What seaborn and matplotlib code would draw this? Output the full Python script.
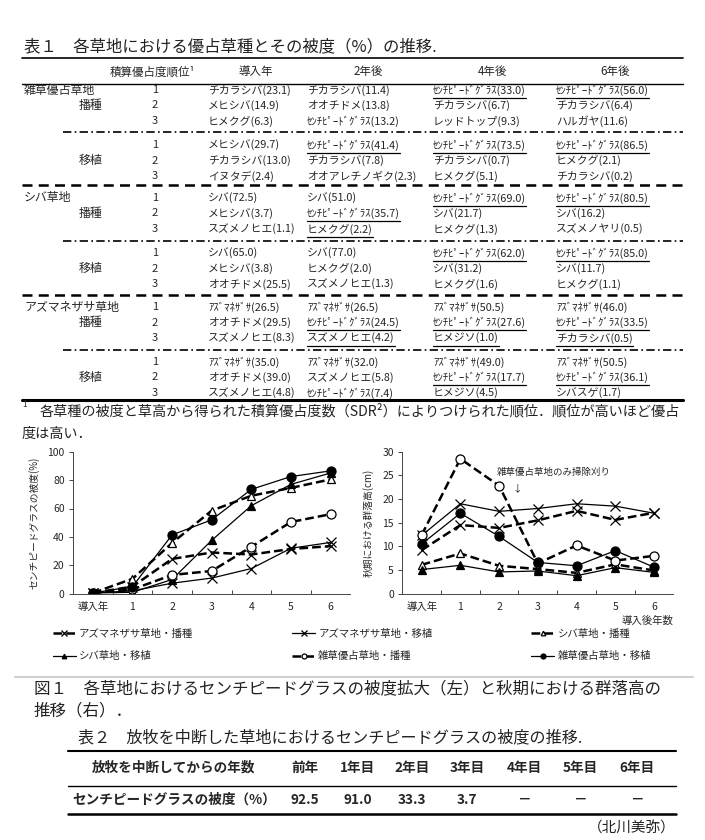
import numpy as np
import pandas as pd
import seaborn as sns
import matplotlib.pyplot as plt
from matplotlib.lines import Line2D

sns.set_style('ticks')
plt.rcParams['font.family'] = ['Noto Sans CJK JP', 'DejaVu Sans']

W, H = 705, 840

# ---- table 1 data ----
CPG = 'ｾﾝﾁﾋﾟｰﾄﾞｸﾞﾗｽ'
AZ = 'ｱｽﾞﾏﾈｻﾞｻ'
groups = ['雑草優占草地', 'シバ草地', 'アズマネザサ草地']
methods = ['播種', '移植']
t1_header = ['導入年', '2年後', '4年後', '6年後']
col_intro = ['チカラシバ(23.1)', 'メヒシバ(14.9)', 'ヒメクグ(6.3)',
             'メヒシバ(29.7)', 'チカラシバ(13.0)', 'イヌタデ(2.4)',
             'シバ(72.5)', 'メヒシバ(3.7)', 'スズメノヒエ(1.1)',
             'シバ(65.0)', 'メヒシバ(3.8)', 'オオチドメ(25.5)',
             AZ + '(26.5)', 'オオチドメ(29.5)', 'スズメノヒエ(8.3)',
             AZ + '(35.0)', 'オオチドメ(39.0)', 'スズメノヒエ(4.8)']
col_2y = ['チカラシバ(11.4)', 'オオチドメ(13.8)', CPG + '(13.2)',
          CPG + '(41.4)', 'チカラシバ(7.8)', 'オオアレチノギク(2.3)',
          'シバ(51.0)', CPG + '(35.7)', 'ヒメクグ(2.2)',
          'シバ(77.0)', 'ヒメクグ(2.0)', 'スズメノヒエ(1.3)',
          AZ + '(26.5)', CPG + '(24.5)', 'スズメノヒエ(4.2)',
          AZ + '(32.0)', 'スズメノヒエ(5.8)', CPG + '(7.4)']
col_4y = [CPG + '(33.0)', 'チカラシバ(6.7)', 'レッドトップ(9.3)',
          CPG + '(73.5)', 'チカラシバ(0.7)', 'ヒメクグ(5.1)',
          CPG + '(69.0)', 'シバ(21.7)', 'ヒメクグ(1.3)',
          CPG + '(62.0)', 'シバ(31.2)', 'ヒメクグ(1.6)',
          AZ + '(50.5)', CPG + '(27.6)', 'ヒメジソ(1.0)',
          AZ + '(49.0)', CPG + '(17.7)', 'ヒメジソ(4.5)']
col_6y = [CPG + '(56.0)', 'チカラシバ(6.4)', 'ハルガヤ(11.6)',
          CPG + '(86.5)', 'ヒメクグ(2.1)', 'チカラシバ(0.2)',
          CPG + '(80.5)', 'シバ(16.2)', 'スズメノヤリ(0.5)',
          CPG + '(85.0)', 'シバ(11.7)', 'ヒメクグ(1.1)',
          AZ + '(46.0)', CPG + '(33.5)', 'チカラシバ(0.5)',
          AZ + '(50.5)', CPG + '(36.1)', 'シバスゲ(1.7)']
under_2y = [3, 7, 8, 13, 14]
under_4y = [0, 3, 6, 9, 13, 14, 16]
under_6y = [0, 3, 6, 9, 13, 14, 16]

# ---- figure 1 data ----
years = ['導入年', '1', '2', '3', '4', '5', '6']
series_names = ['アズマネザサ草地・播種', 'アズマネザサ草地・移植', 'シバ草地・播種',
                'シバ草地・移植', '雑草優占草地・播種', '雑草優占草地・移植']
az_sow_cover = [0.5, 5.0, 24.5, 29.0, 27.6, 31.5, 33.5]
az_tp_cover = [0.5, 2.0, 7.4, 11.0, 17.7, 32.0, 36.1]
shiba_sow_cover = [0.5, 10.5, 35.7, 58.5, 69.0, 74.5, 80.5]
shiba_tp_cover = [0.5, 1.0, 10.0, 37.6, 62.0, 77.0, 85.0]
weed_sow_cover = [0.5, 3.0, 13.2, 16.0, 33.0, 50.5, 56.0]
weed_tp_cover = [0.5, 5.0, 41.4, 52.0, 73.5, 82.5, 86.5]

az_sow_h = [9.2, 14.5, 13.9, 15.5, 17.5, 15.6, 17.1]
az_tp_h = [12.3, 19.0, 17.4, 18.0, 19.0, 18.5, 17.0]
shiba_sow_h = [6.1, 8.5, 5.9, 5.2, 4.4, 6.2, 4.9]
shiba_tp_h = [5.1, 6.0, 4.6, 4.8, 3.8, 5.5, 4.5]
weed_sow_h = [12.4, 28.5, 22.8, 6.4, 10.2, 7.0, 8.0]
weed_tp_h = [10.5, 17.0, 12.1, 6.6, 5.9, 9.1, 5.6]

# ---- table 2 data ----
t2_header = ['前年', '1年目', '2年目', '3年目', '4年目', '5年目', '6年目']
t2_values = ['92.5', '91.0', '33.3', '3.7', '－', '－', '－']


def fx(x):
    return x / W


def fy(y):
    return 1 - y / H


fig = plt.figure(figsize=(W / 100, H / 100), dpi=100)


def txt(x, y, s, size=7.5, ha='left', va='center', **kw):
    return fig.text(fx(x), fy(y), s, fontsize=size, ha=ha, va=va, **kw)


def hline(x0, x1, y, lw=1.0, ls='-', color='k'):
    fig.add_artist(Line2D([fx(x0), fx(x1)], [fy(y), fy(y)], transform=fig.transFigure,
                          lw=lw, ls=ls, color=color))


# ---------------- table 1 ----------------
txt(24, 47, '表１　各草地における優占草種とその被度（%）の推移.', size=11.8, color='#222222')
hline(22, 683, 58, lw=1.2)
txt(152, 72, '積算優占度順位¹', size=8.3, ha='center')
for cx, h in zip([256, 368, 492, 615], t1_header):
    txt(cx, 72, h, size=8.3, ha='center')
hline(22, 683, 84, lw=1.0)

block_y = [90, 145, 198, 253, 307, 362]
col_x = [208, 307, 433, 556]
columns = [col_intro, col_2y, col_4y, col_6y]
unders = [[], under_2y, under_4y, under_6y]
text_objs = []
for b in range(6):
    gi, mi = b // 2, b % 2
    for r in range(3):
        y = block_y[b] + r * 15.5
        row = b * 3 + r
        txt(155, y, str(r + 1), size=8, ha='center')
        for ci in range(4):
            t = txt(col_x[ci], y, columns[ci][row], size=7.8)
            if row in unders[ci]:
                text_objs.append((t, y))
    if mi == 0:
        txt(24, block_y[b], groups[gi], size=8.6)
    txt(91, block_y[b] + 15.5, methods[mi], size=8.6, ha='center')

for y in [132, 241, 350]:
    hline(63, 683, y, lw=1.2, ls=(0, (5, 2, 1, 2)))
for y in [185, 295]:
    hline(22, 683, y, lw=1.8, ls=(0, (4, 2.5)))
hline(22, 683, 400, lw=2.2)

fig.canvas.draw()
rend = fig.canvas.get_renderer()
for t, y in text_objs:
    bb = t.get_window_extent(rend)
    hline(bb.x0, bb.x1, y + 7.5, lw=0.9)

txt(22, 404, '1', size=6)
txt(40, 411, '各草種の被度と草高から得られた積算優占度数（SDR²）によりつけられた順位．順位が高いほど優占',
    size=10.2, color='#222222')
txt(22, 434, '度は高い．', size=10.2, color='#222222')

# ---------------- figure 1 ----------------
styles = [
    dict(marker='x', ls='--', lw=1.8, ms=7, mfc='k'),
    dict(marker='x', ls='-', lw=0.9, ms=7, mfc='k'),
    dict(marker='^', ls='--', lw=1.8, ms=6, mfc='white'),
    dict(marker='^', ls='-', lw=0.9, ms=6, mfc='k'),
    dict(marker='o', ls='--', lw=1.8, ms=6.5, mfc='white'),
    dict(marker='o', ls='-', lw=0.9, ms=6.5, mfc='k'),
]
cover = [az_sow_cover, az_tp_cover, shiba_sow_cover, shiba_tp_cover, weed_sow_cover, weed_tp_cover]
height = [az_sow_h, az_tp_h, shiba_sow_h, shiba_tp_h, weed_sow_h, weed_tp_h]
xs = np.arange(len(years))

ax1 = fig.add_axes([fx(73), fy(593.7), (350.4 - 73) / W, (593.7 - 451.7) / H])
ax2 = fig.add_axes([fx(402.3), fy(593.7), (673.4 - 402.3) / W, (593.7 - 451.7) / H])

for ax, data in [(ax1, cover), (ax2, height)]:
    for name, vals, st in zip(series_names, data, styles):
        sns.lineplot(x=xs, y=vals, ax=ax, color='k', marker=st['marker'], linestyle=st['ls'],
                     linewidth=st['lw'], markersize=st['ms'], markerfacecolor=st['mfc'],
                     markeredgecolor='k', markeredgewidth=0.9, label=name)
    ax.set_xlim(-0.5, 6.5)
    ax.set_xticks(xs)
    ax.set_xticklabels(years)
    ax.set_xticks(np.arange(0.5, 6.0, 1.0), minor=True)
    ax.tick_params(axis='x', which='major', length=0, labelsize=7.5, pad=6)
    ax.tick_params(axis='x', which='minor', direction='in', length=3, width=0.6)
    ax.tick_params(axis='y', length=3, width=0.6, labelsize=7.5, pad=3)
    for sp in ['top', 'right']:
        ax.spines[sp].set_visible(False)
    for sp in ['left', 'bottom']:
        ax.spines[sp].set_linewidth(0.7)
        ax.spines[sp].set_color('#444444')
    ax.set_xlabel('')
    ax.legend_.remove()

for line in ax1.lines + ax2.lines:
    if line.get_linestyle() == '--':
        line.set_dashes((3.5, 1.6))

ax1.set_ylim(0, 100)
ax1.set_yticks([0, 20, 40, 60, 80, 100])
ax1.set_ylabel('センチピードグラスの被度(%)', fontsize=7, labelpad=6)
ax2.set_ylim(0, 30)
ax2.set_yticks([0, 5, 10, 15, 20, 25, 30])
ax2.set_ylabel('秋期における群落高(cm)', fontsize=7, labelpad=6)
ax2.text(3.41, 25.6, '雑草優占草地のみ掃除刈り', fontsize=6.8, ha='center', va='center')
ax2.text(2.46, 22.4, '↓', fontsize=7, ha='center', va='center')
txt(673, 621, '導入後年数', size=7.5, ha='right')

hs, ls = ax1.get_legend_handles_labels()
order = [0, 3, 1, 4, 2, 5]
fig.legend([hs[i] for i in order], [ls[i] for i in order], ncol=3, frameon=False,
           loc='center', bbox_to_anchor=(fx(352), fy(645)), fontsize=7.5,
           handlelength=2.2, markerscale=0.55, columnspacing=9.5, labelspacing=1.2,
           handletextpad=0.3)

hline(15, 693, 677, lw=1.5, color='#cfcfcf')
txt(34, 689, '図１　各草地におけるセンチピードグラスの被度拡大（左）と秋期における群落高の',
    size=11.9, color='#222222')
txt(34, 711, '推移（右）．', size=11.9, color='#222222')

# ---------------- table 2 ----------------
txt(78, 738, '表２　放牧を中断した草地におけるセンチピードグラスの被度の推移.', size=11.6, color='#222222')
hline(68, 676, 751, lw=1.5)
txt(174, 768, '放牧を中断してからの年数', size=9.8, ha='center', fontweight='bold')
t2_x = [305, 358, 412, 467, 524, 580, 637]
for cx, h in zip(t2_x, t2_header):
    txt(cx, 768, h, size=9.8, ha='center', fontweight='bold')
hline(68, 676, 786, lw=1.0)
txt(174, 800, 'センチピードグラスの被度（%）', size=9.8, ha='center', fontweight='bold')
for cx, v in zip(t2_x, t2_values):
    txt(cx, 800, v, size=9.8, ha='center', fontweight='bold')
hline(68, 676, 814, lw=1.8)
txt(676, 829, '（北川美弥）', size=10.5, ha='right', color='#222222')

fig.savefig('out.png', dpi=100)
